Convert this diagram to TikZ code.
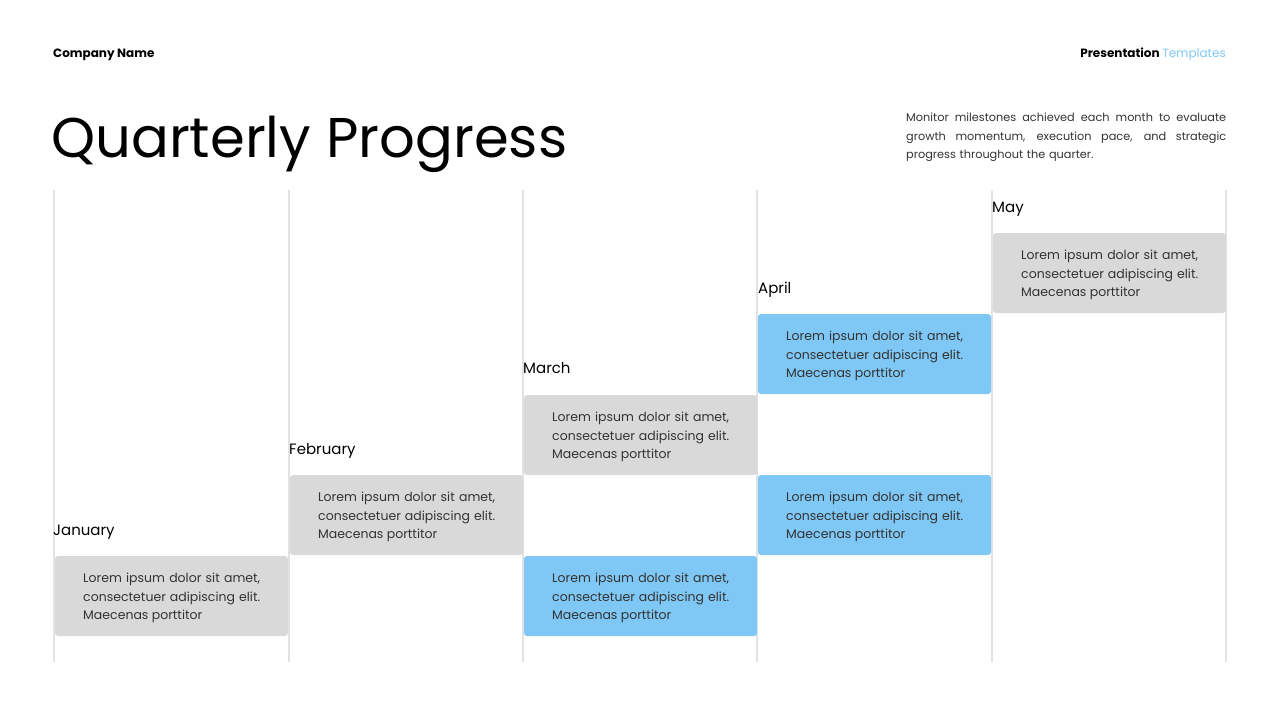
\documentclass[tikz,border=0pt]{standalone}
\usepackage{fontspec}
\setmainfont{Poppins}
\definecolor{gbox}{HTML}{D9D9D9}
\definecolor{bbox}{HTML}{7FC8F5}
\definecolor{vline}{HTML}{E2E2E2}
\definecolor{tmpl}{HTML}{7FC8F5}
\definecolor{txt}{HTML}{333333}
\newcommand{\jline}[1]{\leavevmode\hbox to 320pt{\spaceskip=3pt plus 1fil\relax #1}}
\tikzset{
 vl/.style={draw=vline,line width=1.5pt},
 cell/.style={rounded corners=3pt,draw=none},
 mon/.style={anchor=base west,inner sep=0,font=\fontsize{15}{18}\selectfont},
 btxt/.style={anchor=north west,inner sep=0,text width=177pt,align=justify,font=\fontsize{12.5}{18.5}\selectfont,text=txt},
}
\begin{document}
\begin{tikzpicture}[x=1pt,y=-1pt]
\useasboundingbox (0,0) rectangle (1280,720);
\node[anchor=base west,inner sep=0,font=\fontsize{12}{14}\selectfont\bfseries] (cn) at (53,57) {Company Name};
\node[anchor=base east,inner sep=0,font=\fontsize{12}{14}\selectfont\bfseries] (pt) at (1226,57) {Presentation \textcolor{tmpl}{\mdseries Templates}};
\node[anchor=base west,inner sep=0,font=\fontsize{56}{60}\selectfont] (title) at (51,157) {Quarterly Progress};
\node[anchor=north west,inner sep=0,text width=320pt,align=left,font=\fontsize{11.3}{18.5}\selectfont,text=txt] (desc) at (906,113) {\jline{Monitor milestones achieved each month to evaluate}\\\jline{growth momentum, execution pace, and strategic}\\progress throughout the quarter.};
\foreach \x [count=\i] in {54,289,523,757,992,1226} \draw[vl] (\x,190) coordinate (t\i) -- (\x,662) coordinate (b\i);
\foreach \x/\y/\c [count=\i] in {54/555/gbox,289/474/gbox,523/394/gbox,523/555/bbox,757/313/bbox,757/474/bbox,992/232/gbox}{
 \fill[cell,\c] (\x+1,\y+1) rectangle (\x+234,\y+81);
 \node[btxt] (c\i) at (\x+29,\y+18) {Lorem ipsum dolor sit amet, consectetuer adipiscing elit. Maecenas porttitor};
}
\node[mon] (m1) at (53,535) {January};
\node[mon] (m2) at (289,454) {February};
\node[mon] (m3) at (523,373) {March};
\node[mon] (m4) at (758,293) {April};
\node[mon] (m5) at (992,212) {May};
\end{tikzpicture}
\end{document}
